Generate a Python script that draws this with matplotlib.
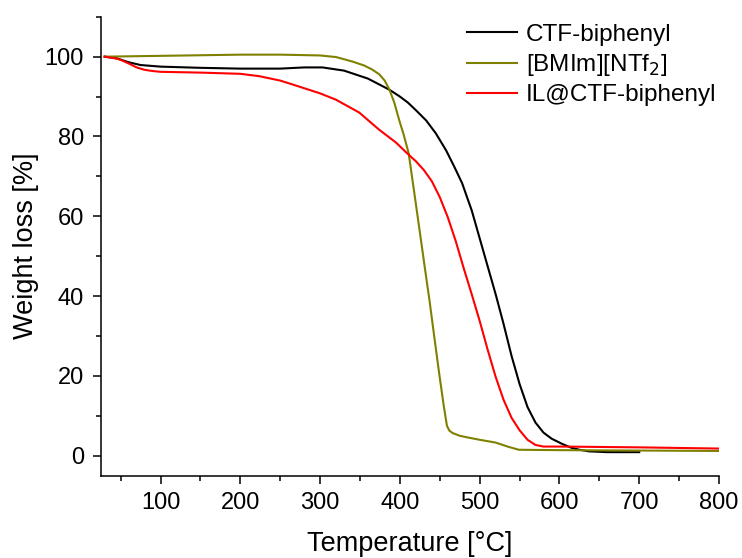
import matplotlib
matplotlib.use("Agg")
import matplotlib.pyplot as plt
from matplotlib.ticker import MultipleLocator

plt.rcParams['font.family'] = ['Liberation Sans', 'DejaVu Sans']

# TGA curves: temperature [°C] vs. remaining weight [%]
ctf_T = [30, 45, 60, 75, 100, 150, 200, 250, 280, 303, 330, 360, 387, 400, 410, 420, 433,
         445, 458, 468, 478, 490, 500, 510, 520, 530, 540, 550, 560, 570, 580, 590, 603,
         615, 625, 637, 660, 700]
ctf_W = [100, 99.6, 98.6, 97.9, 97.5, 97.2, 97.0, 97.0, 97.3, 97.3, 96.5, 94.5, 91.7, 90.0, 88.5, 86.6, 84.0,
         80.8, 76.5, 72.5, 68.3, 61.5, 54.5, 47.5, 40.5, 33.0, 25.0, 18.0, 12.2, 8.3, 5.8, 4.3, 3.0,
         2.0, 1.5, 1.1, 0.9, 0.9]

il_T = [30, 100, 200, 250, 300, 320, 340, 355, 365, 374, 381, 387, 393, 399, 405, 411, 418, 424,
        431, 437, 443, 449, 455, 459, 462, 466, 475, 487, 500, 520, 535, 549, 600, 700, 800]
il_W = [100.0, 100.2, 100.5, 100.5, 100.3, 99.9, 98.8, 97.8, 96.8, 95.6, 94.0, 91.7, 88.5, 84.2, 80.3, 75.8, 66.0, 57.5,
        47.5, 39.1, 30.0, 21.0, 12.5, 7.5, 6.3, 5.7, 5.0, 4.5, 4.0, 3.3, 2.3, 1.5, 1.4, 1.3, 1.2]

ilctf_T = [30, 45, 50, 60, 70, 80, 90, 100, 150, 200, 224, 250, 266, 300, 320, 349, 374, 395,
           408, 420, 430, 440, 450, 460, 470, 480, 490, 500, 510, 520, 530, 540, 550, 560, 570,
           580, 603, 700, 800]
ilctf_W = [100, 99.5, 99.2, 98.3, 97.3, 96.7, 96.4, 96.2, 96.0, 95.7, 95.1, 94.0, 93.0, 90.8, 89.2, 86.0, 81.7, 78.5,
           76.0, 73.8, 71.6, 68.8, 64.8, 59.8, 53.8, 47.0, 40.5, 33.8, 26.6, 19.8, 14.0, 9.5, 6.4, 4.0, 2.7,
           2.3, 2.3, 2.1, 1.8]

labels = ["CTF-biphenyl", "[BMIm][NTf$_2$]", "IL@CTF-biphenyl"]
x_ticks = [100, 200, 300, 400, 500, 600, 700, 800]
y_ticks = [0, 20, 40, 60, 80, 100]

fig = plt.figure(figsize=(7.42, 5.58), dpi=100)
ax = fig.add_axes([0.1357, 0.1475, 0.969 - 0.1357, 0.970 - 0.1475])

lw = 1.5
ax.plot(ctf_T, ctf_W, color='black', lw=lw, label=labels[0])
ax.plot(il_T, il_W, color='#808000', lw=lw, label=labels[1])
ax.plot(ilctf_T, ilctf_W, color='#ff0000', lw=lw, label=labels[2])

ax.set_xlim(25, 800)
ax.set_ylim(-5, 110)
ax.set_xticks(x_ticks)
ax.set_yticks(y_ticks)
ax.xaxis.set_minor_locator(MultipleLocator(50))
ax.yaxis.set_minor_locator(MultipleLocator(10))

for side in ('top', 'right'):
    ax.spines[side].set_visible(False)
for side in ('left', 'bottom'):
    ax.spines[side].set_linewidth(1.1)

ax.tick_params(which='major', direction='out', length=6, width=1.1, labelsize=17, pad=6)
ax.tick_params(which='minor', direction='out', length=3.5, width=1.1)

ax.set_xlabel("Temperature [°C]", fontsize=19.5, labelpad=12)
ax.set_ylabel("Weight loss [%]", fontsize=19.5)
ax.yaxis.set_label_coords(-0.1, 0.5)

ax.legend(frameon=False, loc='upper right', bbox_to_anchor=(1.0, 0.99),
          fontsize=17.5, handlelength=2.05, handletextpad=0.37, labelspacing=0.26,
          borderaxespad=0.0, borderpad=0.1)

fig.savefig("out.png", dpi=100)
